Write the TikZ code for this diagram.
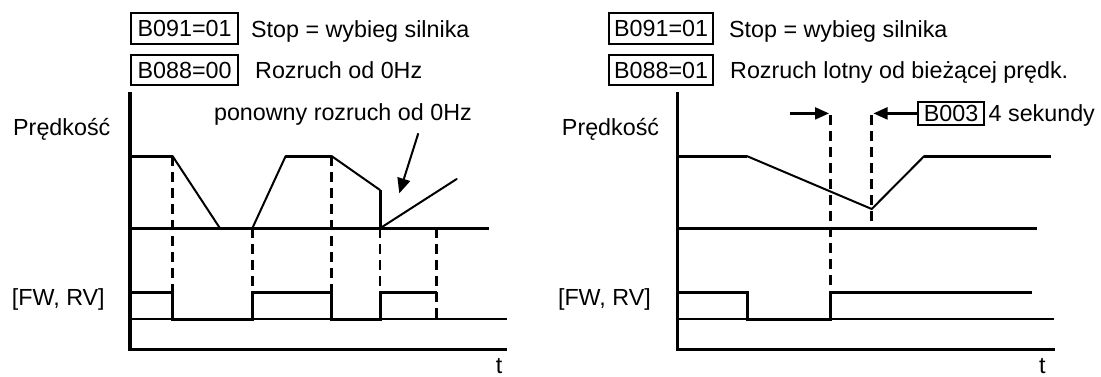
\documentclass[tikz,border=0pt]{standalone}
\usepackage{fontspec}
\setmainfont{Liberation Sans}
\usetikzlibrary{arrows.meta}
\begin{document}
\begin{tikzpicture}[x=1pt,y=-1pt,
  txt/.style={font=\fontsize{23.3}{28}\selectfont, inner sep=0pt},
  axis/.style={line width=3.2pt},
  lvl/.style={line width=3pt},
  ramp/.style={line width=2pt, line cap=round},
  pulse/.style={line width=3pt},
  ref/.style={line width=2pt},
  guide/.style={line width=2.5pt, dash pattern=on 10pt off 6pt},
  param/.style={draw, line width=2.2pt, font=\fontsize{23.3}{28}\selectfont, minimum height=30.7pt},
  tip/.style={-{Triangle[length=15pt,width=13pt]}, line width=2.2pt}
]
\useasboundingbox (0,0) rectangle (1101,376);

% ---------------- left panel ----------------
\node[param, inner sep=0pt, minimum width=107.5pt] (lb1) at (184.6,28.7) {B091=01};
\node[txt, anchor=base west] (lt1) at (251,37) {Stop = wybieg silnika};
\node[param, inner sep=0pt, minimum width=107.5pt] (lb2) at (184.6,70) {B088=00};
\node[txt, anchor=base west] (lt2) at (255,78.3) {Rozruch od 0Hz};
\node[txt, anchor=base west] (lv) at (13,135.5) {Prędkość};
\node[txt, anchor=base east] (lre) at (472,120) {ponowny rozruch od 0Hz};
\node[txt, anchor=base west] (lfw) at (11.7,305) {[FW, RV]};
\node[txt, anchor=base] (ltt) at (499,373) {t};

\coordinate (Ltop) at (130,92);
\coordinate (Lxend) at (506.7,349.3);
\draw[axis] (Ltop) |- (Lxend);

\coordinate (Lb0) at (130,228.3);
\coordinate (Lb1) at (489.3,228.3);
\draw[lvl] (Lb0) -- (Lb1);

\coordinate (Ls0) at (130,156);
\coordinate (Ls1) at (172.5,156);
\coordinate (Ls2) at (220,228.3);
\coordinate (Ls3) at (252.3,228.3);
\coordinate (Ls4) at (285.7,156);
\coordinate (Ls5) at (331.5,156);
\coordinate (Ls6) at (380,190);
\coordinate (Ls7) at (380,228.3);
\coordinate (Ls8) at (456.7,179);
\draw[lvl] (Ls0) -- (Ls1);
\draw[ramp] (Ls1) -- (Ls2);
\draw[ramp] (Ls3) -- (Ls4);
\draw[lvl] (Ls4) -- (Ls5);
\draw[ramp] (Ls5) -- (Ls6);
\draw[lvl] (Ls6) -- (Ls7);
\draw[ramp] (Ls7) -- (Ls8);

\coordinate (Lr0) at (130,319.3);
\coordinate (Lr1) at (506.7,319.3);
\draw[ref] (Lr0) -- (Lr1);
\coordinate (Lf0) at (130,292.3);
\coordinate (Lf1) at (172.5,292.3);
\coordinate (Lf2) at (172.5,319.3);
\coordinate (Lf3) at (252.3,319.3);
\coordinate (Lf4) at (252.3,292.3);
\coordinate (Lf5) at (331.5,292.3);
\coordinate (Lf6) at (331.5,319.3);
\coordinate (Lf7) at (380,319.3);
\coordinate (Lf8) at (380,292.3);
\coordinate (Lf9) at (436.7,292.3);
\draw[pulse] (Lf0) -- (Lf1) -- (Lf2) -- (Lf3) -- (Lf4) -- (Lf5) -- (Lf6) -- (Lf7) -- (Lf8) -- (Lf9);

\coordinate (Ld5a) at (436.7,228.3);
\coordinate (Ld5b) at (436.7,319.3);
\draw[guide] (Ls1) -- (Lf1);
\draw[guide] (Ls3) -- (Lf4);
\draw[guide] (Ls5) -- (Lf5);
\draw[guide] (Ls7) -- (Lf8);
\draw[guide] (Ld5a) -- (Ld5b);

\coordinate (La0) at (418.3,133.3);
\coordinate (La1) at (399.3,193.3);
\draw[tip, line width=2pt] (La0) -- (La1);

% ---------------- right panel ----------------
\node[param, anchor=west, inner xsep=5pt, inner ysep=0pt] (rb1) at (608,28.7) {B091=01\hspace{9pt}};
\node[txt, anchor=base west] (rt1) at (729,37) {Stop = wybieg silnika};
\node[param, anchor=west, inner xsep=5pt, inner ysep=0pt] (rb2) at (608,70) {B088=01\hspace{12pt}};
\node[txt, anchor=base west] (rt2) at (730,78.3) {Rozruch lotny od bieżącej prędk.};
\node[txt, anchor=base east] (rv) at (659.3,135) {Prędkość};
\node[draw, line width=2pt, font=\fontsize{23.3}{28}\selectfont, inner sep=0pt, minimum width=66.6pt, minimum height=23.3pt] (b003) at (951,113.4) {B003};
\node[txt, anchor=base west] (rsek) at (988.5,121.7) {4 sekundy};
\node[txt, anchor=base east] (rfw) at (651,305) {[FW, RV]};
\node[txt, anchor=base] (rtt) at (1042.3,373) {t};

\coordinate (Rtop) at (677.7,92);
\coordinate (Rxend) at (1055,349.3);
\draw[axis] (Rtop) |- (Rxend);

\coordinate (Rb0) at (677.7,228.3);
\coordinate (Rb1) at (1036.7,228.3);
\draw[lvl] (Rb0) -- (Rb1);

\coordinate (Rs0) at (677.7,156);
\coordinate (Rs1) at (746.7,156);
\coordinate (Rs2) at (871.7,209);
\coordinate (Rs3) at (924.3,156);
\coordinate (Rs4) at (1050.7,156);
\draw[lvl] (Rs0) -- (Rs1);
\draw[ramp] (Rs1) -- (Rs2) -- (Rs3);
\draw[lvl] (Rs3) -- (Rs4);

\coordinate (Rr0) at (677.7,319.3);
\coordinate (Rr1) at (1054,319.3);
\draw[ref] (Rr0) -- (Rr1);
\coordinate (Rf0) at (677.7,292.3);
\coordinate (Rf1) at (747.3,292.3);
\coordinate (Rf2) at (747.3,319.3);
\coordinate (Rf3) at (830.5,319.3);
\coordinate (Rf4) at (830.5,292.3);
\coordinate (Rf5) at (1031.7,292.3);
\draw[pulse] (Rf0) -- (Rf1) -- (Rf2) -- (Rf3) -- (Rf4) -- (Rf5);

\coordinate (Rd1a) at (830.5,115);
\coordinate (Rd2a) at (871.7,115);
\coordinate (Rd2b) at (871.7,228.3);
\draw[guide] (Rd1a) -- (Rf4);
\draw[guide] (Rd2a) -- (Rd2b);

\coordinate (RaR0) at (789.6,113.4);
\coordinate (RaR1) at (829,113.4);
\coordinate (RaL1) at (873.5,113.4);
\draw[tip, -{Triangle[length=14pt,width=12pt]}] (RaR0) -- (RaR1);
\draw[tip, -{Triangle[length=14pt,width=12pt]}] (b003.west) -- (RaL1);
\end{tikzpicture}
\end{document}
